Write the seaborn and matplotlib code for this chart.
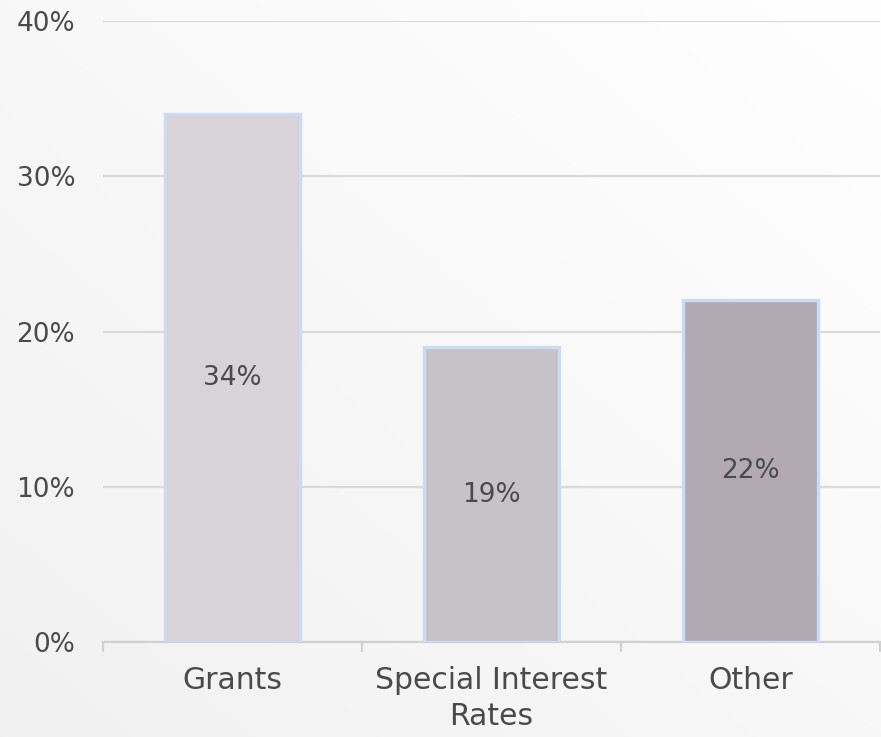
import numpy as np
import pandas as pd
import matplotlib
matplotlib.use("Agg")
import matplotlib.pyplot as plt
import seaborn as sns

categories = ["Grants", "Special Interest\nRates", "Other"]
values = [34, 19, 22]
bar_colors = ["#d8d2d8", "#c8c1c8", "#b3a7b3"]
y_ticks = [0, 10, 20, 30, 40]

sns.set_theme(style="white")
plt.rcParams["font.family"] = ["DejaVu Sans"]

TEXT = "#4a4a4a"
FS = 19
FS_CAT = 21.5

fig = plt.figure(figsize=(8.81, 7.37), dpi=100)

# soft diagonal background wash
bg = fig.add_axes([0, 0, 1, 1], zorder=-10)
yy, xx = np.mgrid[0:1:200j, 0:1:200j]
g = np.clip((xx + (1 - yy)) / 2, 0, 1)
shade = 0.945 + 0.055 * g
bg.imshow(np.dstack([shade, shade, shade]), extent=[0, 1, 0, 1], aspect="auto", origin="upper")
bg.axis("off")

ax = fig.add_axes([103 / 881, 1 - 642 / 737, 777 / 881, (642 - 21) / 737])
ax.patch.set_alpha(0)

df = pd.DataFrame({"category": categories, "value": values})
sns.barplot(data=df, x="category", y="value", hue="category", palette=bar_colors,
            width=0.52, edgecolor="#c9dbf5", linewidth=2.4, legend=False, ax=ax, zorder=3)

for p, v in zip(ax.patches, values):
    ax.text(p.get_x() + p.get_width() / 2, v / 2, f"{v}%", ha="center", va="center",
            fontsize=FS, color=TEXT, zorder=4)

ax.set_xlim(-0.5, 2.5)
ax.set_ylim(0, 40)
ax.set_yticks(y_ticks)
ax.set_yticklabels([f"{t}%" for t in y_ticks], fontsize=FS, color=TEXT)
ax.tick_params(axis="y", length=0, pad=20)
ax.tick_params(axis="x", length=0, pad=17, labelsize=FS_CAT, labelcolor=TEXT)
for lbl in ax.get_xticklabels():
    lbl.set_linespacing(1.3)
ax.set_xlabel("")
ax.set_ylabel("")
ax.yaxis.grid(True, color="#dadada", linewidth=1.6, zorder=0)
ax.set_axisbelow(True)
for s in ["top", "right", "left"]:
    ax.spines[s].set_visible(False)
ax.spines["bottom"].set_color("#d0d0d0")
ax.spines["bottom"].set_linewidth(1.6)

# category boundary ticks beneath the baseline
for xb in [-0.5, 0.5, 1.5, 2.5]:
    ax.plot([xb, xb], [0, -0.6], color="#d0d0d0", linewidth=1.6, clip_on=False, zorder=2)

fig.savefig("out.png", dpi=100)
